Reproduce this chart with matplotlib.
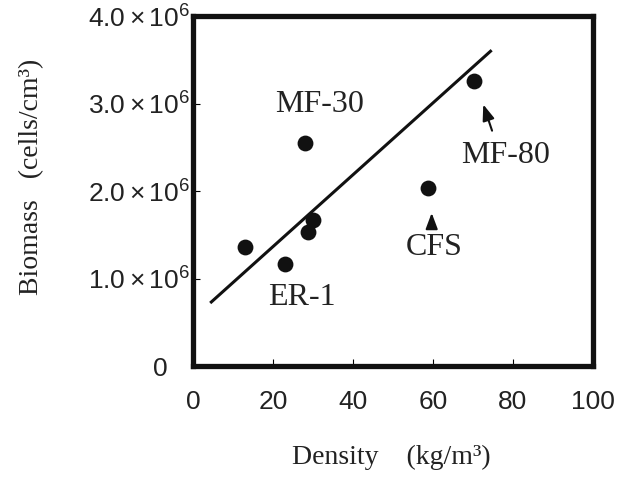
import numpy as np
import matplotlib.pyplot as plt

# ---- data ----
density = [13, 23, 28.8, 30.1, 28, 58.8, 70.3]            # kg/m3
biomass = [1.36e6, 1.17e6, 1.53e6, 1.67e6, 2.55e6, 2.03e6, 3.26e6]  # cells/cm3

# fitted line end points
line_x = [4.3, 74.7]
line_y = [0.72e6, 3.61e6]

x_ticks = [0, 20, 40, 60, 80, 100]
y_ticks = [0, 1.0e6, 2.0e6, 3.0e6, 4.0e6]
y_ticklabels = ["0   ", r"$1.0\times10^{6}$", r"$2.0\times10^{6}$",
                r"$3.0\times10^{6}$", r"$4.0\times10^{6}$"]

# sample names: (label, x, y) of text baseline, arrow tail, arrow tip
names = ["MF-30", "ER-1", "CFS", "MF-80"]
name_xy = [(31.75, 2.90e6), (27.25, 0.70e6), (60.25, 1.27e6), (78.25, 2.32e6)]
arrow_tail = {"CFS": (59.7, 1.57e6), "MF-80": (74.8, 2.69e6)}
arrow_tip = {"CFS": (59.7, 1.75e6), "MF-80": (72.6, 2.99e6)}

plt.rcParams["mathtext.fontset"] = "custom"
plt.rcParams["mathtext.rm"] = "Liberation Sans"
plt.rcParams["mathtext.it"] = "Liberation Sans"
plt.rcParams["mathtext.default"] = "rm"

fig = plt.figure(figsize=(6.17, 4.80), dpi=100)
ax = fig.add_axes([0.3128, 0.2375, 0.648, 0.729])

ax.plot(line_x, line_y, color="#111111", lw=2.2, solid_capstyle="butt")
ax.scatter(density, biomass, s=130, color="#111111", zorder=3, linewidths=0)

ax.set_xlim(0, 100)
ax.set_ylim(0, 4.0e6)
ax.set_xticks(x_ticks)
ax.set_yticks(y_ticks)
ax.set_yticklabels(y_ticklabels)

for lab in ax.get_xticklabels() + ax.get_yticklabels():
    lab.set_fontfamily("Liberation Sans")
    lab.set_fontsize(19)
    lab.set_color("#222222")

ax.tick_params(axis="x", direction="in", length=5, width=0.8, pad=17)
ax.tick_params(axis="y", direction="in", length=5, width=0.8, pad=2)

for sp in ax.spines.values():
    sp.set_linewidth(3.8)
    sp.set_color("#111111")

serif = {"family": "Liberation Serif", "size": 20, "color": "#222222"}
ax.set_xlabel("Density    (kg/m³)", fontdict=serif)
ax.set_ylabel("Biomass   (cells/cm³)", fontdict=serif)
ax.xaxis.set_label_coords(0.495, -0.226)
ax.yaxis.set_label_coords(-0.372, 0.54)

# sample labels and arrows
for name, (tx, ty) in zip(names, name_xy):
    ax.text(tx, ty, name, ha="center", va="baseline",
            family="Liberation Serif", size=23, color="#222222")
for name in arrow_tail:
    ax.annotate("", xy=arrow_tip[name], xytext=arrow_tail[name],
                arrowprops=dict(arrowstyle="-|>,head_length=0.8,head_width=0.3",
                                color="#111111", lw=1.5, mutation_scale=12,
                                shrinkA=0, shrinkB=0))

fig.savefig("out.png", dpi=100)
